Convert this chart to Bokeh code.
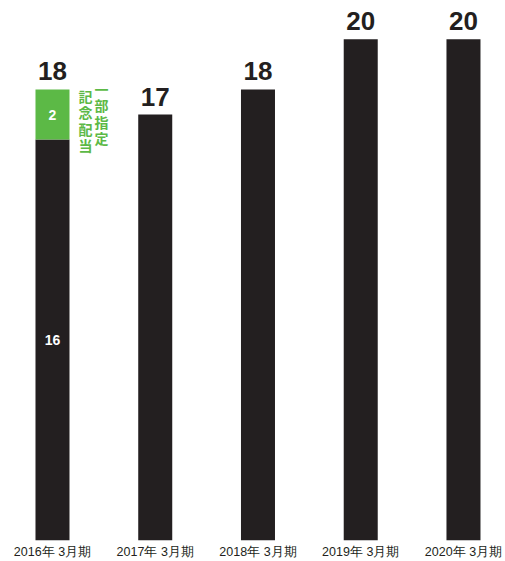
from bokeh.plotting import figure
from bokeh.models import ColumnDataSource, FixedTicker
from bokeh.core.properties import value
from bokeh.embed import file_html
from bokeh.resources import INLINE

categories = ["2016年 3月期", "2017年 3月期", "2018年 3月期", "2019年 3月期", "2020年 3月期"]
ordinary = [16, 17, 18, 20, 20]
commemorative = [2, 0, 0, 0, 0]
note_right = "一部指定"
note_left = "記念配当"

BLACK = "#231f20"
GREEN = "#5cb946"

xs = list(range(len(categories)))
totals = [a + b for a, b in zip(ordinary, commemorative)]

p = figure(width=505, height=561, output_backend="svg", toolbar_location=None,
           x_range=(-0.506, 4.409), y_range=(0, 21.55),
           min_border_left=0, min_border_right=0, min_border_top=0, min_border_bottom=19)
p.outline_line_color = None
p.xgrid.visible = False
p.ygrid.visible = False
p.yaxis.visible = False
p.background_fill_color = "white"
p.border_fill_color = "white"

src = ColumnDataSource(dict(x=xs, base=ordinary, total=totals, lab=[str(t) for t in totals]))
p.vbar(x="x", bottom=0, top="base", width=0.331, fill_color=BLACK, line_color=None, source=src)
p.vbar(x="x", bottom="base", top="total", width=0.331, fill_color=GREEN, line_color=None, source=src)

p.text(x="x", y="total", text="lab", source=src, text_align="center", text_baseline="bottom",
       y_offset=-9, text_font=value("Liberation Sans"), text_font_style="bold",
       text_font_size="26px", text_color=BLACK)

ix = [i for i, c in enumerate(commemorative) if c > 0]
inner = ColumnDataSource(dict(
    x=[xs[i] for i in ix] * 2,
    y=[ordinary[i] / 2 for i in ix] + [ordinary[i] + commemorative[i] / 2 for i in ix],
    t=[str(ordinary[i]) for i in ix] + [str(commemorative[i]) for i in ix]))
p.text(x="x", y="y", text="t", source=inner, text_align="center", text_baseline="middle",
       text_font=value("Liberation Sans"), text_font_style="bold", text_font_size="14px",
       text_color="white")

for i in ix:
    p.text(x=[xs[i]], y=[totals[i]], text=["\n".join(note_right)], x_offset=49, y_offset=24,
           text_align="center", text_baseline="middle", text_font=value("Noto Sans CJK JP"),
           text_font_style="bold", text_font_size="14px", text_line_height=0.81, text_color=GREEN)
    p.text(x=[xs[i]], y=[totals[i]], text=["\n".join(note_left)], x_offset=33, y_offset=31,
           text_align="center", text_baseline="middle", text_font=value("Noto Sans CJK JP"),
           text_font_style="bold", text_font_size="14px", text_line_height=0.81, text_color=GREEN)

p.xaxis.ticker = FixedTicker(ticks=xs)
p.xaxis.major_label_overrides = {i: c for i, c in enumerate(categories)}
p.xaxis.axis_line_color = None
p.xaxis.major_tick_line_color = None
p.xaxis.minor_tick_line_color = None
p.xaxis.major_tick_out = 0
p.xaxis.major_tick_in = 0
p.xaxis.major_label_standoff = 4
p.xaxis.major_label_text_font = "Liberation Sans"
p.xaxis.major_label_text_font_size = "12.5px"
p.xaxis.major_label_text_color = BLACK

open("out.html", "w").write(file_html(p, INLINE))
